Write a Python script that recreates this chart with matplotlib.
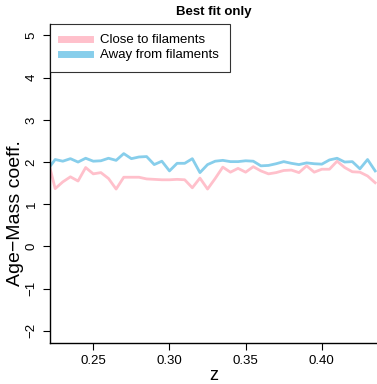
import matplotlib
matplotlib.use("Agg")
import matplotlib.pyplot as plt

plt.rcParams['font.family'] = ['Liberation Sans', 'DejaVu Sans']

z = [0.220, 0.225, 0.230, 0.235, 0.240, 0.245, 0.250, 0.255, 0.260, 0.265,
     0.270, 0.275, 0.280, 0.285, 0.290, 0.295, 0.300, 0.305, 0.310, 0.315,
     0.320, 0.325, 0.330, 0.335, 0.340, 0.345, 0.350, 0.355, 0.360, 0.365,
     0.370, 0.375, 0.380, 0.385, 0.390, 0.395, 0.400, 0.405, 0.410, 0.415,
     0.420, 0.425, 0.430, 0.435]

close_vals = [2.09, 1.37, 1.53, 1.65, 1.55, 1.87, 1.72, 1.75, 1.61, 1.36,
              1.64, 1.64, 1.64, 1.60, 1.59, 1.58, 1.58, 1.59, 1.58, 1.39,
              1.62, 1.36, 1.61, 1.88, 1.76, 1.85, 1.76, 1.89, 1.79, 1.72,
              1.75, 1.80, 1.81, 1.75, 1.91, 1.76, 1.83, 1.83, 2.02, 1.87,
              1.77, 1.76, 1.67, 1.51]

away_vals = [1.82, 2.06, 2.02, 2.08, 2.00, 2.09, 2.02, 2.03, 2.09, 2.04,
             2.20, 2.08, 2.12, 2.13, 1.94, 2.02, 1.79, 1.97, 1.97, 2.08,
             1.75, 1.94, 2.02, 2.04, 2.01, 2.01, 2.03, 2.02, 1.91, 1.92,
             1.96, 2.01, 1.97, 1.94, 1.98, 1.96, 1.95, 2.05, 2.09, 2.00,
             2.01, 1.84, 2.06, 1.79]

series_labels = ["Close to filaments", "Away from filaments"]
x_ticks = [0.25, 0.30, 0.35, 0.40]
x_tick_labels = ["0.25", "0.30", "0.35", "0.40"]
y_ticks = [-2, -1, 0, 1, 2, 3, 4, 5]
y_tick_labels = ["\u22122", "\u22121", "0", "1", "2", "3", "4", "5"]

fig = plt.figure(figsize=(3.77, 3.84), dpi=100)
ax = fig.add_axes([50/377, (384-342.7)/384, 1 - 50/377, (342.7-23.6)/384])

ax.plot(z, close_vals, color="#FFC0CB", lw=2.0, label=series_labels[0])
ax.plot(z, away_vals, color="#87CEEB", lw=2.0, label=series_labels[1])

ax.set_xlim(0.2216, 0.4362)
ax.set_ylim(-2.28, 5.28)

ax.spines['top'].set_visible(False)
ax.spines['right'].set_visible(False)
ax.spines['left'].set_linewidth(1.0)
ax.spines['bottom'].set_linewidth(1.0)

ax.set_xticks(x_ticks)
ax.set_xticklabels(x_tick_labels)
ax.set_yticks(y_ticks)
ax.set_yticklabels(y_tick_labels, rotation=90, va="center")
ax.tick_params(axis='both', direction='out', length=5, width=0.8, labelsize=9.5, pad=4)

ax.set_xlabel("z", fontsize=13)
ax.xaxis.set_label_coords(0.5, -(367 - 342.7) / 319.1)
ax.set_ylabel("Age\u2212Mass coeff.", fontsize=14)
ax.yaxis.set_label_coords((15 - 50) / 327.0, (342.7 - 213) / 319.1)
ax.yaxis.label.set_va("center")
ax.set_title("Best fit only", fontsize=9.5, fontweight='bold', pad=6)

leg = ax.legend(loc="upper left", frameon=True, fancybox=False, fontsize=9.5,
                handlelength=2.25, borderaxespad=0.0, borderpad=0.8,
                handletextpad=0.75, labelspacing=0.2)
leg.get_frame().set_edgecolor("black")
leg.get_frame().set_linewidth(0.8)
for line in leg.get_lines():
    line.set_linewidth(5)

fig.savefig("out.png", dpi=100)
